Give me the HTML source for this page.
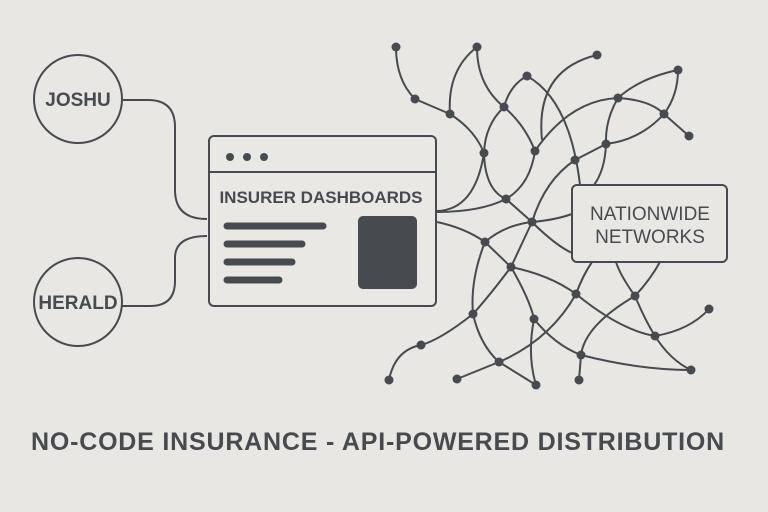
<!DOCTYPE html>
<html><head><meta charset="utf-8"><style>
html,body{margin:0;padding:0;background:#e9e7e3;}
svg{display:block}
text{font-family:"Liberation Sans",sans-serif;fill:#474b4f}
</style></head><body>
<svg width="768" height="512" viewBox="0 0 768 512">
<rect width="768" height="512" fill="#e9e7e3"/>
<g fill="none" stroke="#474b4f" stroke-width="2">
<circle cx="78" cy="99" r="44"/>
<circle cx="78" cy="302" r="44"/>
<path d="M122 100 H148 Q175 100 175 127 V190 Q175 219 207 219"/>
<path d="M122 306 H150 Q175 306 175 281 V258 Q175 236 207 236"/>
<rect x="209" y="136" width="227" height="170" rx="5" fill="#eae8e4"/>
<line x1="209" y1="172" x2="436" y2="172"/>
<rect x="572" y="185" width="155" height="77" rx="5"/>
</g>
<g fill="#474b4f">
<circle cx="230" cy="157" r="4"/><circle cx="247" cy="157" r="4"/><circle cx="264" cy="157" r="4"/>
<rect x="358" y="216" width="59" height="73" rx="5"/>
</g>
<g stroke="#474b4f" stroke-width="7" stroke-linecap="round">
<line x1="227" y1="226" x2="323" y2="226"/>
<line x1="227" y1="244" x2="302" y2="244"/>
<line x1="227" y1="262" x2="292" y2="262"/>
<line x1="227" y1="280" x2="279" y2="280"/>
</g>
<text x="78" y="106" font-size="19" font-weight="bold" text-anchor="middle">JOSHU</text>
<text x="78" y="309" font-size="19" font-weight="bold" text-anchor="middle">HERALD</text>
<text x="321" y="203" font-size="17" font-weight="bold" text-anchor="middle">INSURER DASHBOARDS</text>
<text x="650" y="220" font-size="19" text-anchor="middle">NATIONWIDE</text>
<text x="650" y="243" font-size="19" text-anchor="middle">NETWORKS</text>
<text x="378" y="450" font-size="25" font-weight="bold" text-anchor="middle" letter-spacing="0.8">NO-CODE INSURANCE - API-POWERED DISTRIBUTION</text>
<g fill="none" stroke="#474b4f" stroke-width="2">
<path d="M396 47 Q396 80 415 99"/>
<path d="M415 99 L450 114"/>
<path d="M477 47 Q447 70 450 114"/>
<path d="M477 47 Q477 85 504 107"/>
<path d="M450 114 Q475 130 484 153"/>
<path d="M504 107 Q485 125 484 153"/>
<path d="M504 107 Q510 85 527 76"/>
<path d="M504 107 Q525 125 535 151"/>
<path d="M527 76 Q570 100 580 185"/>
<path d="M484 153 Q485 190 506 199"/>
<path d="M535 151 Q530 185 506 199"/>
<path d="M597 55 Q535 70 542 140"/>
<path d="M535 151 Q570 100 618 98"/>
<path d="M618 98 Q640 78 678 70"/>
<path d="M678 70 Q678 95 664 114"/>
<path d="M618 98 Q650 100 664 114"/>
<path d="M664 114 L689 136"/>
<path d="M664 114 Q640 140 606 144"/>
<path d="M618 98 Q605 120 606 144"/>
<path d="M606 144 L575 160"/>
<path d="M606 144 Q605 170 594 185"/>
<path d="M575 160 Q545 180 532 222"/>
<path d="M506 199 L532 222"/>
<path d="M532 222 Q555 220 572 214"/>
<path d="M437 211 Q475 210 484 153"/>
<path d="M437 212 Q480 212 506 199"/>
<path d="M437 222 Q465 228 485 242"/>
<path d="M485 242 Q505 225 532 222"/>
<path d="M532 222 L511 267"/>
<path d="M532 222 Q555 245 572 253"/>
<path d="M485 242 L511 267"/>
<path d="M485 242 Q470 280 473 314"/>
<path d="M511 267 Q490 295 473 314"/>
<path d="M511 267 Q530 300 534 319"/>
<path d="M511 267 Q550 275 576 294"/>
<path d="M576 294 Q583 275 592 262"/>
<path d="M635 296 Q620 275 616 262"/>
<path d="M635 296 Q650 280 660 262"/>
<path d="M576 294 Q620 330 655 336"/>
<path d="M655 336 Q690 330 709 309"/>
<path d="M635 296 Q645 320 655 336"/>
<path d="M655 336 Q670 360 691 370"/>
<path d="M635 296 Q585 325 581 355"/>
<path d="M576 294 Q550 340 499 362"/>
<path d="M473 314 Q440 340 421 345"/>
<path d="M421 345 Q395 350 389 380"/>
<path d="M473 314 Q480 345 499 362"/>
<path d="M499 362 L457 379"/>
<path d="M499 362 L536 385"/>
<path d="M534 319 Q527 355 536 385"/>
<path d="M534 319 Q555 345 581 355"/>
<path d="M581 355 L579 380"/>
<path d="M581 355 Q640 370 691 370"/>
</g>
<g fill="#474b4f">
<circle cx="396" cy="47" r="4.5"/><circle cx="477" cy="47" r="4.5"/><circle cx="597" cy="55" r="4.5"/><circle cx="678" cy="70" r="4.5"/>
<circle cx="415" cy="99" r="4.5"/><circle cx="450" cy="114" r="4.5"/><circle cx="504" cy="107" r="4.5"/><circle cx="527" cy="76" r="4.5"/>
<circle cx="618" cy="98" r="4.5"/><circle cx="664" cy="114" r="4.5"/><circle cx="689" cy="136" r="4.5"/><circle cx="484" cy="153" r="4.5"/>
<circle cx="535" cy="151" r="4.5"/><circle cx="575" cy="160" r="4.5"/><circle cx="606" cy="144" r="4.5"/><circle cx="506" cy="199" r="4.5"/>
<circle cx="532" cy="222" r="4.5"/><circle cx="485" cy="242" r="4.5"/><circle cx="511" cy="267" r="4.5"/><circle cx="576" cy="294" r="4.5"/>
<circle cx="635" cy="296" r="4.5"/><circle cx="709" cy="309" r="4.5"/><circle cx="473" cy="314" r="4.5"/><circle cx="534" cy="319" r="4.5"/>
<circle cx="421" cy="345" r="4.5"/><circle cx="655" cy="336" r="4.5"/><circle cx="581" cy="355" r="4.5"/><circle cx="499" cy="362" r="4.5"/>
<circle cx="389" cy="380" r="4.5"/><circle cx="457" cy="379" r="4.5"/><circle cx="536" cy="385" r="4.5"/><circle cx="579" cy="380" r="4.5"/>
<circle cx="691" cy="370" r="4.5"/>
</g>
</svg>
</body></html>
